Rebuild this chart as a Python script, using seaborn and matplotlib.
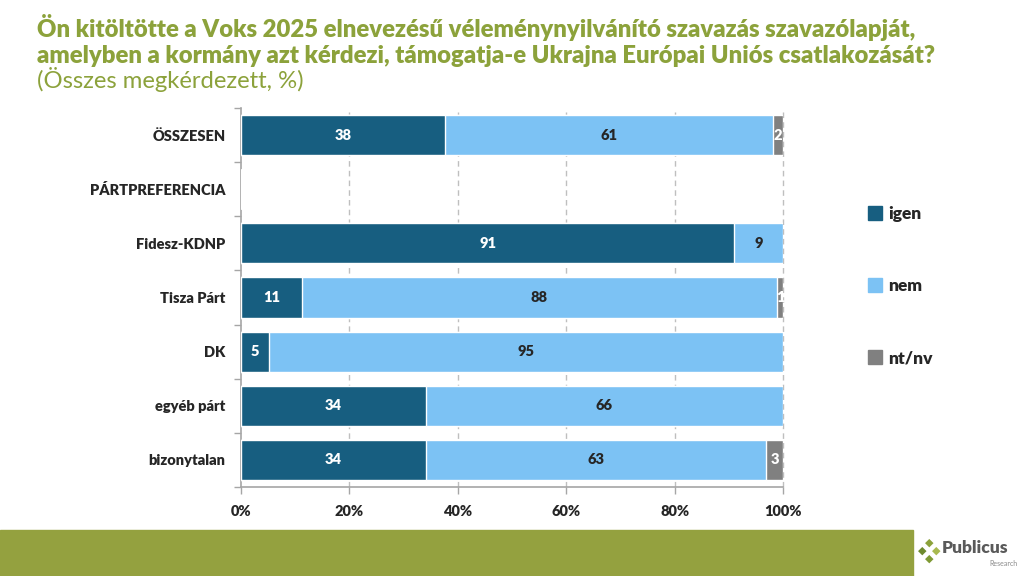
import numpy as np
import pandas as pd
import seaborn as sns
import matplotlib.pyplot as plt
from matplotlib.patches import Rectangle
from matplotlib.lines import Line2D

# data (% of respondents)
categories = ["ÖSSZESEN", "PÁRTPREFERENCIA", "Fidesz-KDNP", "Tisza Párt", "DK", "egyéb párt", "bizonytalan"]
igen = [37.6, 0, 91.0, 11.2, 5.2, 34.1, 34.1]
nem = [60.6, 0, 9.0, 87.7, 94.8, 65.9, 62.8]
ntnv = [1.8, 0, 0, 1.1, 0, 0, 3.1]
series_names = ["igen", "nem", "nt/nv"]
series_colors = ["#175E80", "#7CC2F4", "#808080"]
label_colors = ["white", "#262626", "white"]
x_ticks = [0, 20, 40, 60, 80, 100]

title_main = ("Ön kitöltötte a Voks 2025 elnevezésű véleménynyilvánító szavazás szavazólapját,\n"
              "amelyben a kormány azt kérdezi, támogatja-e Ukrajna Európai Uniós csatlakozását?")
title_sub = "(Összes megkérdezett, %)"

df = pd.DataFrame({"cat": categories, "igen": igen, "nem": nem, "nt/nv": ntnv})
df["c1"] = df["igen"]
df["c2"] = df["igen"] + df["nem"]
df["c3"] = df["c2"] + df["nt/nv"]

sns.set_theme(style="white")
plt.rcParams["font.family"] = ["Lato", "DejaVu Sans"]

fig = plt.figure(figsize=(10.24, 5.76), dpi=100)
ax = fig.add_axes([241 / 1024, 1 - 487 / 576, 542 / 1024, 379 / 576])

# stacked bars drawn as overlapping cumulative totals
for col, color in zip(["c3", "c2", "c1"], series_colors[::-1]):
    sns.barplot(data=df, x=col, y="cat", order=categories, orient="h",
                color=color, saturation=1, width=0.74, ax=ax, zorder=3)

# value labels
for i, row in df.iterrows():
    starts = [0, row["c1"], row["c2"]]
    for s, name, lc in zip(starts, series_names, label_colors):
        v = row[name]
        if v <= 0:
            continue
        ax.text(s + v / 2, i, f"{round(v):d}", ha="center", va="center",
                color=lc, fontsize=10.5, fontweight="heavy", zorder=4)

ax.set_xlim(0, 100)
ax.set_ylim(len(categories) - 0.5, -0.5)
ax.set_xlabel("")
ax.set_ylabel("")
ax.set_xticks(x_ticks)
ax.set_xticklabels([f"{t}%" for t in x_ticks], fontsize=10.5, fontweight="heavy", color="#262626")
ax.set_yticks(range(len(categories)))
ax.set_yticklabels(categories, fontsize=10.5, fontweight="heavy", color="#262626")
ax.set_yticks(np.arange(-0.5, len(categories), 1), minor=True)
ax.tick_params(axis="y", which="major", length=0, pad=11)
ax.tick_params(axis="y", which="minor", length=5, color="#A6A6A6", width=1, left=True)
ax.tick_params(axis="x", length=5, color="#A6A6A6", width=1, bottom=True, pad=8)

for x in x_ticks[1:]:
    ax.axvline(x, color="#BFBFBF", lw=1, ls=(0, (4, 3)), zorder=1, clip_on=False)
for side in ["top", "right"]:
    ax.spines[side].set_visible(False)
for side in ["left", "bottom"]:
    ax.spines[side].set_color("#A6A6A6")
    ax.spines[side].set_linewidth(1.2)

# legend
handles = [Line2D([], [], marker="s", ls="", markersize=10, color=c) for c in series_colors]
fig.legend(handles, series_names, loc="upper left", bbox_to_anchor=(851 / 1024, 1 - 190 / 576),
           frameon=False, prop={"size": 12.5, "weight": "heavy"}, labelspacing=3.25,
           handletextpad=0.25, handlelength=1.0, labelcolor="#262626")

# title
olive = "#8CA23B"
fig.text(37 / 1024, 1 - 14 / 576, title_main, ha="left", va="top", color=olive,
         fontsize=17.2, fontweight="heavy", linespacing=1.2)
fig.text(37 / 1024, 1 - 80 / 576, title_sub, ha="left", va="center", color=olive, fontsize=17.2)

# footer band and logo
fig.patches.append(Rectangle((0, 0), 913 / 1024, 46 / 576, transform=fig.transFigure,
                             color="#94A13F", zorder=0))
for (dx, dy), c in zip([(0, 8), (-7, 0), (7, 0), (0, -8)], ["#8CA23B", "#6E8A2E", "#A8B94F", "#7F9A34"]):
    fig.text((929 + dx) / 1024, 1 - (551 - dy) / 576, "◆", color=c, fontsize=8,
             ha="center", va="center", family="DejaVu Sans")
fig.text(942 / 1024, 1 - 548 / 576, "Publicus", color="#5A5A5A", fontsize=12.5,
         fontweight="heavy", ha="left", va="center")
fig.text(1018 / 1024, 1 - 564 / 576, "Research", color="#8A8A8A", fontsize=5,
         ha="right", va="center")

fig.savefig("out.png", dpi=100)
